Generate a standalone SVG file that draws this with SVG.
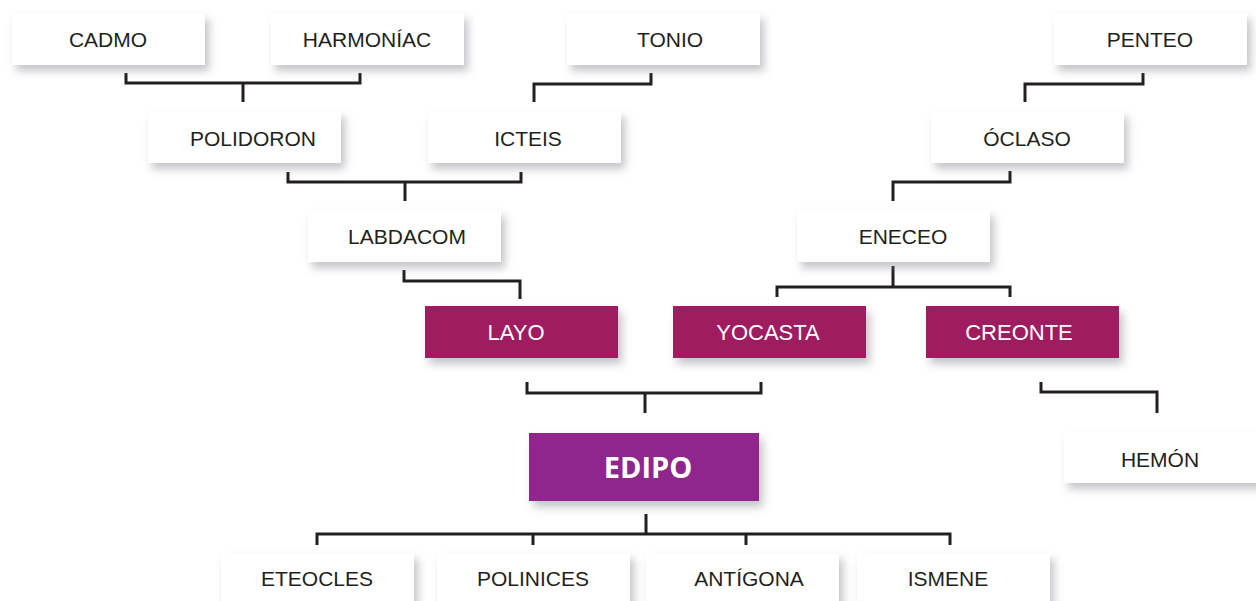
<svg xmlns="http://www.w3.org/2000/svg" width="1256" height="601" viewBox="0 0 1256 601">
<defs>
<filter id="sh" x="-20%" y="-40%" width="150%" height="200%">
<feDropShadow dx="4" dy="6" stdDeviation="4.5" flood-color="#7a7f88" flood-opacity="0.45"/>
</filter>
<style>
.w{fill:#ffffff;filter:url(#sh)}
.m{fill:#9e1f5f;filter:url(#sh)}
.e{fill:#8e278e;filter:url(#sh)}
.t{font-family:"Liberation Sans","Open Sans",sans-serif;font-size:21px;fill:#231f20;text-anchor:middle;dominant-baseline:central}
.tw{font-family:"Liberation Sans","Open Sans",sans-serif;font-size:22px;fill:#ffffff;text-anchor:middle;dominant-baseline:central}
.tb{font-family:"Open Sans","Liberation Sans",sans-serif;font-size:29px;font-weight:bold;fill:#ffffff;text-anchor:middle;dominant-baseline:central}
.c{fill:none;stroke:#231f20;stroke-width:3}
</style>
</defs>
<rect width="1256" height="601" fill="#ffffff"/>
<g id="connectors">
<path class="c" d="M126,73 V83 H360 V73 M243,83 V102"/>
<path class="c" d="M651,73 V84 H534 V102"/>
<path class="c" d="M1143,73 V84 H1025 V102"/>
<path class="c" d="M288,172 V182 H521 V172 M405,182 V201"/>
<path class="c" d="M1010,171 V182 H893 V201"/>
<path class="c" d="M404,270 V281 H520 V299"/>
<path class="c" d="M893,266 V287 M777,297 V287 H1010 V297"/>
<path class="c" d="M527,382 V393 H761 V382 M645,393 V413"/>
<path class="c" d="M1041,382 V392 H1157 V413"/>
<path class="c" d="M646,514 V534 M317,545 V534 H950 V545 M533,534 V545 M746,534 V545"/>
</g>
<g id="cadmo"><rect class="w" x="12" y="13" width="193" height="52"/><text class="t" x="108" y="39">CADMO</text></g>
<g id="harmoniac"><rect class="w" x="271" y="13" width="193" height="52"/><text class="t" x="367" y="39">HARMONÍAC</text></g>
<g id="tonio"><rect class="w" x="567" y="13" width="193" height="52"/><text class="t" x="670" y="39">TONIO</text></g>
<g id="penteo"><rect class="w" x="1054" y="13" width="193" height="52"/><text class="t" x="1150" y="39">PENTEO</text></g>
<g id="polidoron"><rect class="w" x="148" y="111" width="193" height="52"/><text class="t" x="253" y="138">POLIDORON</text></g>
<g id="icteis"><rect class="w" x="428" y="111" width="193" height="52"/><text class="t" x="528" y="138">ICTEIS</text></g>
<g id="oclaso"><rect class="w" x="931" y="111" width="193" height="52"/><text class="t" x="1027" y="138">ÓCLASO</text></g>
<g id="labdacom"><rect class="w" x="308" y="210" width="193" height="52"/><text class="t" x="407" y="236">LABDACOM</text></g>
<g id="eneceo"><rect class="w" x="797" y="210" width="193" height="52"/><text class="t" x="903" y="236">ENECEO</text></g>
<g id="layo"><rect class="m" x="425" y="306" width="193" height="52"/><text class="tw" x="516" y="332">LAYO</text></g>
<g id="yocasta"><rect class="m" x="673" y="306" width="193" height="52"/><text class="tw" x="768" y="332">YOCASTA</text></g>
<g id="creonte"><rect class="m" x="926" y="306" width="193" height="52"/><text class="tw" x="1019" y="332">CREONTE</text></g>
<g id="edipo"><rect class="e" x="529" y="433" width="230" height="68"/><text class="tb" x="648" y="466">EDIPO</text></g>
<g id="hemon"><rect class="w" x="1064" y="431" width="196" height="52"/><text class="t" x="1160" y="459">HEMÓN</text></g>
<g id="eteocles"><rect class="w" x="221" y="553" width="193" height="60"/><text class="t" x="317" y="578">ETEOCLES</text></g>
<g id="polinices"><rect class="w" x="437" y="553" width="193" height="60"/><text class="t" x="533" y="578">POLINICES</text></g>
<g id="antigona"><rect class="w" x="646" y="553" width="193" height="60"/><text class="t" x="749" y="578">ANTÍGONA</text></g>
<g id="ismene"><rect class="w" x="857" y="553" width="193" height="60"/><text class="t" x="948" y="578">ISMENE</text></g>
</svg>
